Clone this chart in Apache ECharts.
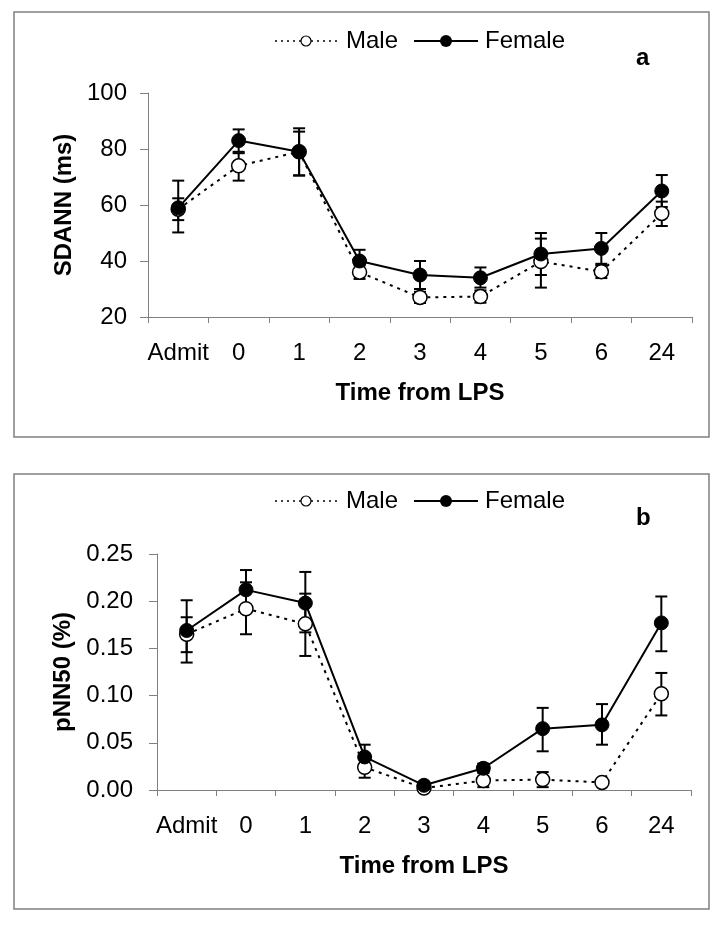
<!DOCTYPE html>
<html>
<head>
<meta charset="utf-8">
<script src="https://cdn.jsdelivr.net/npm/echarts@6/dist/echarts.min.js"></script>
<style>
  html, body { margin: 0; padding: 0; background: #fff; }
  #main { width: 726px; height: 930px; }
</style>
</head>
<body>
<div id="main"></div>
<script>
// categories
var times = ['Admit', '0', '1', '2', '3', '4', '5', '6', '24'];

// panel a : SDANN (ms)
var maleSdann = [58.5, 74, 79, 36, 27, 27.3, 39.8, 36.2, 57];
var maleSdannHi = [62.4, 78.5, 86.2, 38.4, 29, 29.5, 48, 38.5, 61.2];
var maleSdannLo = [54.6, 68.7, 70.6, 33.6, 25, 25.1, 30.5, 33.9, 52.5];
var femaleSdann = [59, 83, 79, 40, 35, 34, 42.5, 44.5, 65];
var femaleSdannHi = [68.7, 87, 87.4, 44, 40, 37.7, 50, 50, 70.7];
var femaleSdannLo = [50.2, 79, 70.5, 36, 30, 30.5, 35, 39, 59.3];

// panel b : pNN50 (%)
var malePnn = [0.165, 0.192, 0.176, 0.024, 0.002, 0.010, 0.011, 0.008, 0.102];
var malePnnHi = [0.183, 0.220, 0.208, 0.035, 0.004, 0.019, 0.019, 0.010, 0.124];
var malePnnLo = [0.146, 0.165, 0.142, 0.013, 0.000, 0.003, 0.003, 0.006, 0.079];
var femalePnn = [0.169, 0.212, 0.198, 0.035, 0.005, 0.023, 0.065, 0.069, 0.177];
var femalePnnHi = [0.201, 0.233, 0.231, 0.048, 0.007, 0.028, 0.087, 0.091, 0.205];
var femalePnnLo = [0.135, 0.191, 0.167, 0.022, 0.003, 0.018, 0.041, 0.048, 0.147];

var FONT = 'Liberation Sans, Arial, sans-serif';
var GREY = '#808080';

var myChart = echarts.init(document.getElementById('main'));

// error bar data [index, lo, hi]
function barData(lo, hi) {
    return lo.map(function (v, i) { return [i, v, hi[i]]; });
}

function errorBars(idx, lo, hi) {
    return {
        type: 'custom',
        xAxisIndex: idx,
        yAxisIndex: idx,
        z: 1,
        silent: true,
        encode: { x: 0, y: [1, 2] },
        data: barData(lo, hi),
        renderItem: function (params, api) {
            var top = api.coord([api.value(0), api.value(2)]);
            var bot = api.coord([api.value(0), api.value(1)]);
            var w = 6;
            var st = { stroke: '#000', lineWidth: 2 };
            return {
                type: 'group',
                children: [
                    { type: 'line', shape: { x1: top[0], y1: top[1], x2: bot[0], y2: bot[1] }, style: st },
                    { type: 'line', shape: { x1: top[0] - w, y1: top[1], x2: top[0] + w, y2: top[1] }, style: st },
                    { type: 'line', shape: { x1: bot[0] - w, y1: bot[1], x2: bot[0] + w, y2: bot[1] }, style: st }
                ]
            };
        }
    };
}

function maleLine(idx, data) {
    return {
        name: 'Male', type: 'line', xAxisIndex: idx, yAxisIndex: idx, z: 3,
        data: data, symbol: 'circle', symbolSize: 14,
        lineStyle: { color: '#000', width: 2, type: [3, 5] },
        itemStyle: { color: '#fff', borderColor: '#000', borderWidth: 1.5 },
        animation: false
    };
}

function femaleLine(idx, data) {
    return {
        name: 'Female', type: 'line', xAxisIndex: idx, yAxisIndex: idx, z: 4,
        data: data, symbol: 'circle', symbolSize: 14,
        lineStyle: { color: '#000', width: 2 },
        itemStyle: { color: '#000', borderColor: '#000', borderWidth: 1 },
        animation: false
    };
}

function xAxis(idx) {
    return {
        type: 'category', gridIndex: idx, data: times,
        axisLine: { lineStyle: { color: GREY, width: 1 } },
        axisTick: { show: true, length: 6, lineStyle: { color: GREY } },
        axisLabel: { color: '#000', fontSize: 24, fontFamily: FONT, margin: 24, interval: 0 },
        name: 'Time from LPS', nameLocation: 'middle', nameGap: 64,
        nameTextStyle: { color: '#000', fontSize: 24, fontWeight: 'bold', fontFamily: FONT }
    };
}

function yAxis(idx, name, min, max, step, fmt, margin) {
    return {
        type: 'value', gridIndex: idx, min: min, max: max, interval: step,
        splitLine: { show: false },
        axisLine: { show: true, lineStyle: { color: GREY, width: 1 } },
        axisTick: { show: true, length: 8, lineStyle: { color: GREY } },
        axisLabel: { color: '#000', fontSize: 24, fontFamily: FONT, margin: margin, formatter: fmt },
        name: name, nameLocation: 'middle', nameGap: 30, nameRotate: 90,
        nameTextStyle: { color: '#000', fontSize: 24, fontWeight: 'bold', fontFamily: FONT }
    };
}

// legend drawn by hand so the dotted/solid line + marker look like the figure
function legendBits(y, tag, tagY) {
    var t = { fill: '#000', fontSize: 24, fontFamily: FONT, textVerticalAlign: 'middle' };
    return [
        { type: 'line', shape: { x1: 275, y1: y, x2: 337, y2: y }, style: { stroke: '#000', lineWidth: 1.5, lineDash: [2, 4] } },
        { type: 'circle', shape: { cx: 306, cy: y, r: 5 }, style: { fill: '#fff', stroke: '#000', lineWidth: 1.2 } },
        { type: 'text', x: 346, y: y, style: Object.assign({ text: 'Male' }, t) },
        { type: 'line', shape: { x1: 414, y1: y, x2: 478, y2: y }, style: { stroke: '#000', lineWidth: 2 } },
        { type: 'circle', shape: { cx: 446, cy: y, r: 6 }, style: { fill: '#000' } },
        { type: 'text', x: 485, y: y, style: Object.assign({ text: 'Female' }, t) },
        { type: 'text', x: 636, y: tagY, style: { text: tag, fill: '#000', fontSize: 24, fontWeight: 'bold', fontFamily: FONT, textVerticalAlign: 'middle' } }
    ];
}

var option = {
    backgroundColor: '#fff',
    animation: false,
    grid: [
        { left: 148, top: 93, width: 544, height: 224 },
        { left: 157, top: 554, width: 534, height: 236 }
    ],
    xAxis: [xAxis(0), xAxis(1)],
    yAxis: [
        yAxis(0, 'SDANN (ms)', 20, 100, 20, null, 21),
        yAxis(1, 'pNN50 (%)', 0, 0.25, 0.05, function (v) { return v.toFixed(2); }, 24)
    ],
    graphic: [
        { type: 'rect', shape: { x: 14, y: 12, width: 695, height: 425 }, style: { fill: 'none', stroke: GREY, lineWidth: 1.5 } },
        { type: 'rect', shape: { x: 14, y: 474, width: 695, height: 435 }, style: { fill: 'none', stroke: GREY, lineWidth: 1.5 } }
    ].concat(legendBits(41, 'a', 58)).concat(legendBits(501, 'b', 518)),
    series: [
        errorBars(0, maleSdannLo, maleSdannHi),
        errorBars(0, femaleSdannLo, femaleSdannHi),
        maleLine(0, maleSdann),
        femaleLine(0, femaleSdann),
        errorBars(1, malePnnLo, malePnnHi),
        errorBars(1, femalePnnLo, femalePnnHi),
        maleLine(1, malePnn),
        femaleLine(1, femalePnn)
    ]
};

myChart.setOption(option);
</script>
</body>
</html>
